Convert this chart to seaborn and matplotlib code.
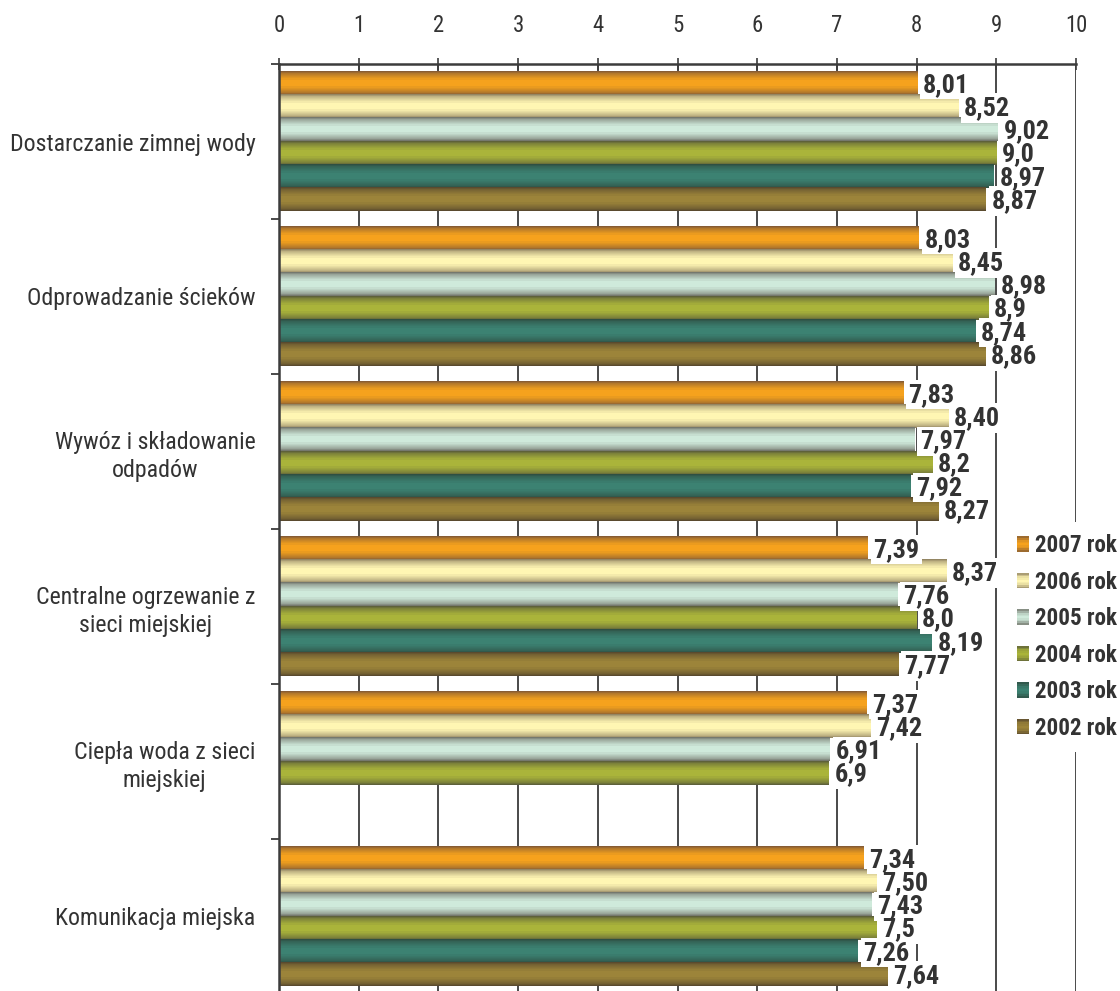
import numpy as np
import pandas as pd
import seaborn as sns
import matplotlib
matplotlib.use("Agg")
import matplotlib.pyplot as plt
from matplotlib import font_manager as fm
from matplotlib.colors import LinearSegmentedColormap, to_rgb
from matplotlib.patches import Rectangle
from matplotlib.legend_handler import HandlerBase
from matplotlib.textpath import TextPath

# ---- data -------------------------------------------------------------
categories = [
    "Dostarczanie zimnej wody",
    "Odprowadzanie ścieków",
    "Wywóz i składowanie\nodpadów",
    "Centralne ogrzewanie z\nsieci miejskiej",
    "Ciepła woda z sieci\nmiejskiej",
    "Komunikacja miejska",
]
years = ["2007 rok", "2006 rok", "2005 rok", "2004 rok", "2003 rok", "2002 rok"]

v2007 = [8.01, 8.03, 7.83, 7.39, 7.37, 7.34]
v2006 = [8.52, 8.45, 8.40, 8.37, 7.42, 7.50]
v2005 = [9.02, 8.98, 7.97, 7.76, 6.91, 7.43]
v2004 = [9.0, 8.9, 8.2, 8.0, 6.9, 7.5]
v2003 = [8.97, 8.74, 7.92, 8.19, np.nan, 7.26]
v2002 = [8.87, 8.86, 8.27, 7.77, np.nan, 7.64]
series = [v2007, v2006, v2005, v2004, v2003, v2002]
decimals = [2, 2, 2, 1, 2, 2]

x_ticks = list(range(0, 11))

# bar shading: (edge colour, centre colour) for each year
edge_colors = ["#7c5636", "#8a7b5c", "#6c6d64", "#57593a", "#2e4a3f", "#54452d"]
center_colors = ["#f6a21d", "#fff6b3", "#cfeadb", "#aab43a", "#3c8272", "#9c843a"]

# ---- fonts: prefer a narrow sans ----------------------------------------
sns.set_theme(style="white")


def pick_font():
    names = {f.name for f in fm.fontManager.ttflist}
    for n in ["Liberation Sans Narrow", "Arial Narrow", "Nimbus Sans Narrow",
              "Roboto Condensed", "Open Sans Condensed"]:
        if n in names:
            return n, "normal"
    for f in fm.fontManager.ttflist:
        st = str(f.stretch).lower()
        if f.name == "DejaVu Sans" and "condensed" in st:
            return "DejaVu Sans", "condensed"
    return "Liberation Sans", "normal"


FAMILY, STRETCH = pick_font()
FONT = [FAMILY, "DejaVu Sans"]
plt.rcParams["font.family"] = FONT
plt.rcParams["font.stretch"] = STRETCH
DPI = 100


def fit_size(text, target_px, weight="normal", cap=None):
    prop = fm.FontProperties(family=FAMILY, stretch=STRETCH, weight=weight)
    w_pt = TextPath((0, 0), text, size=100, prop=prop).get_extents().width
    px_at_100 = w_pt * DPI / 72
    size = 100 * target_px / px_at_100
    return min(size, cap) if cap else size


cat_size = fit_size("Dostarczanie zimnej wody", 244, cap=19)
tick_size = cat_size * 0.95
val_size = fit_size("8,01", 41, "bold", cap=19)
leg_size = fit_size("2007 rok", 81, "bold", cap=18)

TXT = "#333333"
LINE = "#3c3c3c"


def cylinder_cmap(edge, center, name):
    e = np.array(to_rgb(edge))
    c = np.array(to_rgb(center))
    t = np.linspace(0, 1, 256)
    prof = np.sin(np.pi * t) ** 0.75
    prof = np.round(prof * 11) / 11  # banded steps
    cols = e[None, :] + (c - e)[None, :] * prof[:, None]
    return LinearSegmentedColormap.from_list(name, cols, N=256)


cmaps = [cylinder_cmap(e, c, y) for e, c, y in zip(edge_colors, center_colors, years)]

rows = []
for y, vals in zip(years, series):
    for cat, v in zip(categories, vals):
        if not np.isnan(v):
            rows.append({"category": cat, "year": y, "value": v})
df = pd.DataFrame(rows)

fig = plt.figure(figsize=(11.2, 9.91), dpi=DPI)
ax = fig.add_axes([279 / 1120, 1 - 994 / 991, 797 / 1120, 930 / 991])

sns.barplot(
    data=df, x="value", y="category", hue="year",
    order=categories, hue_order=years, orient="h",
    palette=center_colors, width=0.9, errorbar=None,
    saturation=1, legend=False, ax=ax,
)

# replace flat bars with shaded cylinders and add value labels
grad = np.linspace(0, 1, 256)[:, None]
label_kw = dict(textcoords="offset points", ha="left", va="center",
                fontsize=val_size, fontweight="bold", family=FONT,
                fontstretch=STRETCH)
for k, cont in enumerate(ax.containers):
    for bar in cont:
        w = bar.get_width()
        if not np.isfinite(w):
            continue
        y0 = bar.get_y()
        h = bar.get_height()
        bar.set_alpha(0)
        ax.imshow(grad, cmap=cmaps[k], aspect="auto", interpolation="nearest",
                  extent=[0, w, y0 + h, y0], zorder=2)
        ci = int(round(y0 + h / 2))
        val = series[k][ci]
        label = f"{val:.{decimals[k]}f}".replace(".", ",")
        # white backing box below, text on top so no box hides a neighbour
        ax.annotate(label, xy=(w, y0 + h / 2), xytext=(4, -1), color="none",
                    zorder=4, bbox=dict(boxstyle="square,pad=0.1", fc="white",
                                        ec="none"), **label_kw)
        ax.annotate(label, xy=(w, y0 + h / 2), xytext=(4, -1), color=TXT,
                    zorder=5, **label_kw)

ax.set_xlim(0, 10)
ax.set_ylim(len(categories) - 0.5, -0.5)
ax.set_xlabel("")
ax.set_ylabel("")

# axes, ticks, grid
ax.xaxis.tick_top()
ax.set_xticks(x_ticks)
ax.set_xticklabels([str(t) for t in x_ticks])
ax.tick_params(axis="x", which="major", top=True, bottom=False, direction="inout",
               length=9, width=1.2, color=LINE, labelsize=tick_size,
               labelcolor=TXT, pad=15)
ax.set_yticks(range(len(categories)))
ax.set_yticklabels(categories)
ax.tick_params(axis="y", which="major", left=True, length=0, labelsize=cat_size,
               labelcolor=TXT, pad=17)
for t in ax.get_yticklabels():
    t.set_multialignment("center")
    t.set_linespacing(1.3)
ax.set_yticks(np.arange(-0.5, len(categories), 1.0), minor=True)
ax.tick_params(axis="y", which="minor", left=True, direction="out", length=6,
               width=1.3, color=LINE)

ax.set_axisbelow(True)
ax.grid(axis="x", color=LINE, linewidth=1.3)
ax.grid(axis="y", visible=False)
for side in ["right", "bottom"]:
    ax.spines[side].set_visible(False)
for side in ["top", "left"]:
    ax.spines[side].set_visible(True)
    ax.spines[side].set_color(LINE)
    ax.spines[side].set_linewidth(1.8)


# legend with shaded swatches
class GradientHandler(HandlerBase):
    def __init__(self, cmap):
        super().__init__()
        self.cmap = cmap

    def create_artists(self, legend, orig_handle, xdescent, ydescent,
                       width, height, fontsize, trans):
        n = 9
        arts = []
        for i in range(n):
            c = self.cmap((i + 0.5) / n)
            r = Rectangle((-xdescent, -ydescent + height * i / n), width,
                          height / n + 0.05, facecolor=c, edgecolor="none",
                          transform=trans)
            arts.append(r)
        return arts


leg_px = leg_size * DPI / 72
handles = [Rectangle((0, 0), 1, 1) for _ in years]
hmap = {h: GradientHandler(cm) for h, cm in zip(handles, cmaps)}
leg = fig.legend(handles, years, handler_map=hmap,
                 loc="center left", bbox_to_anchor=(1005 / 1120, 1 - 637 / 991),
                 borderaxespad=0,
                 frameon=True, facecolor="white", edgecolor="none", framealpha=1,
                 fancybox=False, borderpad=12 / leg_px,
                 handlelength=12 / leg_px, handleheight=15 / leg_px,
                 handletextpad=6 / leg_px,
                 labelspacing=max(0.2, (37.6 - 1.05 * leg_px) / leg_px),
                 prop=dict(family=FONT, size=leg_size, weight="bold",
                           stretch=STRETCH))
for t in leg.get_texts():
    t.set_color(TXT)
leg.set_zorder(10)

fig.savefig("out.png", dpi=DPI, facecolor="white")
